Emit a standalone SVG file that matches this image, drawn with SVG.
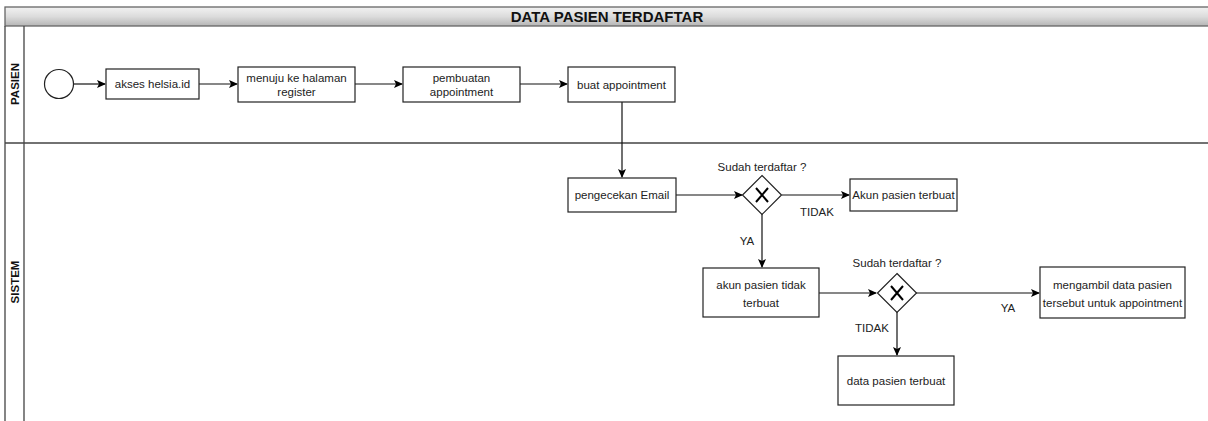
<svg xmlns="http://www.w3.org/2000/svg" width="1208" height="421" viewBox="0 0 1208 421">
<defs>
<linearGradient id="hdr" x1="0" y1="0" x2="0" y2="1">
<stop offset="0" stop-color="#f2f2f2"/>
<stop offset="0.5" stop-color="#dcdcdc"/>
<stop offset="1" stop-color="#b5b5b5"/>
</linearGradient>
<marker id="arr" markerWidth="10" markerHeight="10" refX="8" refY="4" orient="auto" markerUnits="userSpaceOnUse">
<path d="M0,0 L9,4 L0,8 L2,4 Z" fill="#000"/>
</marker>
</defs>
<style>
.lane{fill:none;stroke:#444;stroke-width:1.3}
.box{fill:#fff;stroke:#222;stroke-width:1.2}
.t{font-family:"Liberation Sans",Arial,sans-serif;font-size:11.5px;fill:#222;text-anchor:middle}
.lbl{font-family:"Liberation Sans",Arial,sans-serif;font-size:11.5px;font-weight:bold;fill:#111;text-anchor:middle}
.e{fill:none;stroke:#111;stroke-width:1.2;marker-end:url(#arr)}
.x{stroke:#000;stroke-width:2;fill:none}
</style>
<rect width="1208" height="421" fill="#fff"/>
<g id="pool">
<rect x="5" y="7" width="1210" height="19" fill="url(#hdr)" stroke="#666" stroke-width="1.3"/>
<text x="607" y="22" class="lbl" style="font-size:15px">DATA PASIEN TERDAFTAR</text>
<path class="lane" d="M5,26 V421 M24,26 V421 M5,143 H1208"/>
<text class="lbl" transform="translate(18.5,84) rotate(-90)">PASIEN</text>
<text class="lbl" transform="translate(18.5,282) rotate(-90)">SISTEM</text>
</g>
<g id="connectors">
<path class="e" d="M73,84 H105"/>
<path class="e" d="M199,84 H237"/>
<path class="e" d="M355,84 H402"/>
<path class="e" d="M520,84 H567"/>
<path class="e" d="M622,102 V177"/>
<path class="e" d="M676,195 H742"/>
<path class="e" d="M782,195 H849"/>
<path class="e" d="M762,214 V267"/>
<path class="e" d="M819,293 H876"/>
<path class="e" d="M916,293 H1039"/>
<path class="e" d="M897,312 V355"/>
<text class="t" x="817" y="216">TIDAK</text>
<text class="t" x="747" y="245">YA</text>
<text class="t" x="1008" y="312">YA</text>
<text class="t" x="872" y="332">TIDAK</text>
</g>
<g id="start"><circle cx="59" cy="84" r="14.5" fill="#fff" stroke="#222" stroke-width="1.2"/></g>
<g id="akses"><rect class="box" x="106" y="69" width="93" height="30"/><text class="t" x="152.5" y="88">akses helsia.id</text></g>
<g id="menuju"><rect class="box" x="238" y="67" width="117" height="35"/><text class="t" x="296.5" y="82">menuju ke halaman</text><text class="t" x="296.5" y="95.5">register</text></g>
<g id="pembuatan"><rect class="box" x="403" y="67" width="117" height="35"/><text class="t" x="461.5" y="82">pembuatan</text><text class="t" x="461.5" y="95.5">appointment</text></g>
<g id="buat"><rect class="box" x="568" y="67" width="107" height="35"/><text class="t" x="621.5" y="88.5">buat appointment</text></g>
<g id="pengecekan"><rect class="box" x="568" y="178" width="108" height="34"/><text class="t" x="622" y="199">pengecekan Email</text></g>
<g id="gw1"><path d="M762,175.5 L781.5,195 L762,214.5 L742.5,195 Z" fill="#fff" stroke="#222" stroke-width="1.2"/><path class="x" d="M756,188 L768,202 M768,188 L756,202"/><text class="t" x="762" y="171">Sudah terdaftar ?</text></g>
<g id="akunterbuat"><rect class="box" x="850" y="179" width="107" height="32"/><text class="t" x="903.5" y="199">Akun pasien terbuat</text></g>
<g id="akuntidak"><rect class="box" x="703" y="268" width="116" height="49"/><text class="t" x="761" y="289">akun pasien tidak</text><text class="t" x="761" y="307">terbuat</text></g>
<g id="gw2"><path d="M897,273.5 L916.5,293 L897,312.5 L877.5,293 Z" fill="#fff" stroke="#222" stroke-width="1.2"/><path class="x" d="M891,286 L903,300 M903,286 L891,300"/><text class="t" x="897" y="267">Sudah terdaftar ?</text></g>
<g id="mengambil"><rect class="box" x="1040" y="267" width="145" height="51"/><text class="t" x="1112.5" y="289">mengambil data pasien</text><text class="t" x="1112.5" y="307">tersebut untuk appointment</text></g>
<g id="datapasien"><rect class="box" x="838" y="356" width="116" height="49"/><text class="t" x="896" y="384.5">data pasien terbuat</text></g>
</svg>
